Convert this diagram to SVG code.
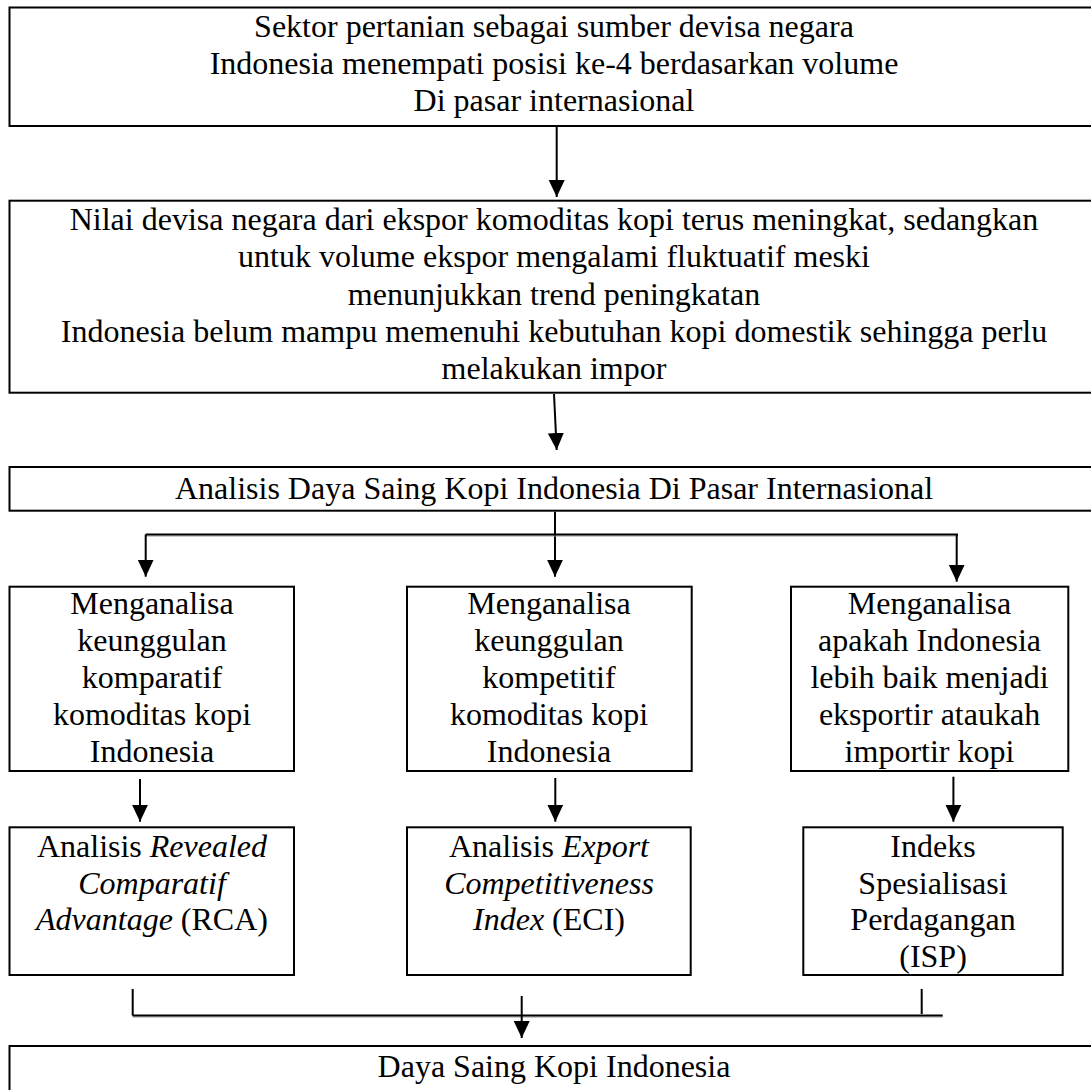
<svg xmlns="http://www.w3.org/2000/svg" width="1091" height="1090" viewBox="0 0 1091 1090">
<style>
.box{fill:#fff;stroke:#000;stroke-width:2}
.t{font-family:"Liberation Serif","Times New Roman",serif;font-size:32px;fill:#000;text-anchor:middle}
.i{font-style:italic}
.ln{stroke:#000;stroke-width:2;fill:none}
.sh{stroke:#999;stroke-width:1;fill:none}
</style>
<defs>
<marker id="ah" markerUnits="userSpaceOnUse" markerWidth="18" markerHeight="17" refX="17" refY="8" orient="auto">
<path d="M0,0 L17,8 L0,16 Z" fill="#000"/>
</marker>
</defs>
<rect width="1091" height="1090" fill="#fff"/>

<g id="n1">
<rect class="box" x="9.5" y="7.5" width="1090" height="118.5"/>
<text class="t" x="554" y="36.5">Sektor pertanian sebagai sumber devisa negara</text>
<text class="t" x="554" y="73.8">Indonesia menempati posisi ke-4 berdasarkan volume</text>
<text class="t" x="554" y="111">Di pasar internasional</text>
</g>

<g id="n2">
<rect class="box" x="9.5" y="200.7" width="1090" height="192"/>
<text class="t" x="554" y="230">Nilai devisa negara dari ekspor komoditas kopi terus meningkat, sedangkan</text>
<text class="t" x="554" y="267.3">untuk volume ekspor mengalami fluktuatif meski</text>
<text class="t" x="554" y="304.6">menunjukkan trend peningkatan</text>
<text class="t" x="554" y="341.9">Indonesia belum mampu memenuhi kebutuhan kopi domestik sehingga perlu</text>
<text class="t" x="554" y="379">melakukan impor</text>
</g>

<g id="n3">
<rect class="box" x="9.5" y="467" width="1090" height="43.7"/>
<text class="t" x="554" y="499.3">Analisis Daya Saing Kopi Indonesia Di Pasar Internasional</text>
</g>

<g id="n4">
<rect class="box" x="9.5" y="586.7" width="284.5" height="184.3"/>
<text class="t" x="152" y="614">Menganalisa</text>
<text class="t" x="152" y="651">keunggulan</text>
<text class="t" x="152" y="688">komparatif</text>
<text class="t" x="152" y="725">komoditas kopi</text>
<text class="t" x="152" y="762">Indonesia</text>
</g>

<g id="n5">
<rect class="box" x="407" y="586.7" width="284.7" height="184.3"/>
<text class="t" x="549" y="614">Menganalisa</text>
<text class="t" x="549" y="651">keunggulan</text>
<text class="t" x="549" y="688">kompetitif</text>
<text class="t" x="549" y="725">komoditas kopi</text>
<text class="t" x="549" y="762">Indonesia</text>
</g>

<g id="n6">
<rect class="box" x="791" y="586.7" width="277.3" height="184.3"/>
<text class="t" x="929.5" y="614">Menganalisa</text>
<text class="t" x="929.5" y="651">apakah Indonesia</text>
<text class="t" x="929.5" y="688">lebih baik menjadi</text>
<text class="t" x="929.5" y="725">eksportir ataukah</text>
<text class="t" x="929.5" y="762">importir kopi</text>
</g>

<g id="n7">
<rect class="box" x="9.5" y="827.3" width="284.5" height="147.7"/>
<text class="t" x="152" y="857">Analisis <tspan class="i">Revealed</tspan></text>
<text class="t i" x="152" y="893.5">Comparatif</text>
<text class="t" x="152" y="930"><tspan class="i">Advantage</tspan> (RCA)</text>
</g>

<g id="n8">
<rect class="box" x="407" y="827.3" width="283.7" height="147.7"/>
<text class="t" x="549" y="857">Analisis <tspan class="i">Export</tspan></text>
<text class="t i" x="549" y="893.5">Competitiveness</text>
<text class="t" x="549" y="930"><tspan class="i">Index</tspan> (ECI)</text>
</g>

<g id="n9">
<rect class="box" x="803.3" y="827.3" width="259.4" height="147.7"/>
<text class="t" x="933" y="857">Indeks</text>
<text class="t" x="933" y="893.5">Spesialisasi</text>
<text class="t" x="933" y="930">Perdagangan</text>
<text class="t" x="933" y="966.5">(ISP)</text>
</g>

<g id="n10">
<rect class="box" x="9.5" y="1046" width="1090" height="60"/>
<text class="t" x="554" y="1077">Daya Saing Kopi Indonesia</text>
</g>

<g id="connectors">
<line class="ln" x1="556.7" y1="127" x2="556.7" y2="197" marker-end="url(#ah)"/>
<line class="ln" x1="554" y1="394" x2="556.7" y2="450" marker-end="url(#ah)"/>
<line class="ln" x1="555" y1="511.7" x2="555" y2="576.7" marker-end="url(#ah)"/>
<line class="sh" x1="145.7" y1="536" x2="958" y2="536"/>
<line class="ln" x1="145.7" y1="534.5" x2="958" y2="534.5"/>
<line class="ln" x1="145.7" y1="534.5" x2="145.7" y2="576.7" marker-end="url(#ah)"/>
<line class="ln" x1="956.7" y1="534.5" x2="956.7" y2="581.7" marker-end="url(#ah)"/>
<line class="ln" x1="140" y1="779" x2="140" y2="821.7" marker-end="url(#ah)"/>
<line class="ln" x1="555.3" y1="778" x2="555.3" y2="821.7" marker-end="url(#ah)"/>
<line class="ln" x1="953.4" y1="776.7" x2="953.4" y2="821.7" marker-end="url(#ah)"/>
<line class="ln" x1="132.7" y1="989" x2="132.7" y2="1015.5"/>
<line class="sh" x1="132.7" y1="1017" x2="942.7" y2="1017"/>
<line class="ln" x1="132.7" y1="1015.5" x2="942.7" y2="1015.5"/>
<line class="ln" x1="921.7" y1="989" x2="921.7" y2="1014"/>
<line class="ln" x1="521.7" y1="996" x2="521.7" y2="1038" marker-end="url(#ah)"/>
</g>
</svg>
